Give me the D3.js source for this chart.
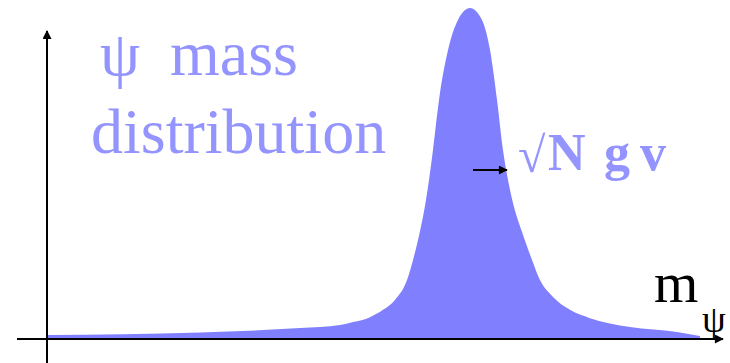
<!DOCTYPE html>
<html>
<head>
<meta charset="utf-8">
<script src="https://cdnjs.cloudflare.com/ajax/libs/d3/7.8.5/d3.min.js"></script>
<style>
  body { margin: 0; background: #fff; }
</style>
</head>
<body>
<div id="mass"></div>
<script>
// mass values (arbitrary units) and relative density of the psi line shape
var mass = [0, 21.86, 36.14, 41.86, 43.71, 46.14, 48.0, 49.71, 51.43, 52.29, 53.0, 54.14, 55.14, 56.0, 57.29, 58.71,
            60.43, 62.14, 63.29, 64.29, 65.14, 65.86, 66.57, 67.86, 69.29, 70.43, 72.29, 74.71, 77.57, 83.29, 90.0, 93.29];
var density = [0.012, 0.020, 0.033, 0.042, 0.051, 0.066, 0.088, 0.118, 0.178, 0.239, 0.299, 0.420, 0.571, 0.722, 0.873, 0.964,
               1.0, 0.964, 0.873, 0.722, 0.571, 0.480, 0.411, 0.323, 0.239, 0.178, 0.127, 0.088, 0.063, 0.036, 0.021, 0.009];
var title = ["ψ", "mass", "distribution"];
var width_label = ["√", "N", "g", "v"];

var W = 730, H = 363;

var x = d3.scaleLinear().domain([0, 100]).range([47, 747]);
var y = d3.scaleLinear().domain([0, 1]).range([339, 8]);

function create_container(){
  var svg = d3.select("#mass").append("svg")
    .attr("width", W)
    .attr("height", H);

  var defs = svg.append("defs");
  defs.append("marker")
    .attr("id", "head")
    .attr("viewBox", "0 0 10 10")
    .attr("refX", 9)
    .attr("refY", 5)
    .attr("markerUnits", "userSpaceOnUse")
    .attr("markerWidth", 11)
    .attr("markerHeight", 9)
    .attr("orient", "auto")
    .append("path")
    .attr("d", "M0,0 L10,5 L0,10 z")
    .attr("fill", "#000");

  draw_shape(svg);
  draw_axes(svg);
  draw_labels(svg);
  return svg;
}

function draw_shape(svg){
  var pts = mass.map(function(m, i){ return [m, density[i]]; });
  var area = d3.area()
    .x(function(d){ return x(d[0]); })
    .y0(y(0))
    .y1(function(d){ return y(d[1]); })
    .curve(d3.curveMonotoneX);

  svg.append("path")
    .datum(pts)
    .attr("d", area)
    .attr("fill", "#8080ff");
}

function draw_axes(svg){
  // y axis
  svg.append("line")
    .attr("x1", x(0))
    .attr("y1", H)
    .attr("x2", x(0))
    .attr("y2", 31)
    .attr("stroke-width", 2)
    .attr("stroke", "#000")
    .attr("marker-end", "url(#head)");

  // x axis
  svg.append("line")
    .attr("x1", 17)
    .attr("y1", y(0))
    .attr("x2", 723)
    .attr("y2", y(0))
    .attr("stroke-width", 2)
    .attr("stroke", "#000")
    .attr("marker-end", "url(#head)");
}

function add_text(svg, tx, ty, size, colour, s){
  return svg.append("text")
    .attr("x", tx)
    .attr("y", ty)
    .attr("font-family", "Liberation Serif")
    .attr("font-size", size)
    .attr("fill", colour)
    .text(s);
}

function draw_labels(svg){
  var blue = "#9494ff";

  add_text(svg, 100, 75, 64, blue, title[0]);
  add_text(svg, 170, 75, 64, blue, title[1]);
  add_text(svg, 91, 153, 64, blue, title[2]);

  // width arrow pointing at the right flank
  svg.append("line")
    .attr("x1", 473)
    .attr("y1", 170)
    .attr("x2", 507)
    .attr("y2", 170)
    .attr("stroke-width", 2)
    .attr("stroke", "#000")
    .attr("marker-end", "url(#head)");

  add_text(svg, 518, 172, 50, blue, width_label[0]);
  add_text(svg, 548, 170, 52, blue, width_label[1]).attr("font-weight", "bold");
  add_text(svg, 604, 170, 52, blue, width_label[2]).attr("font-weight", "bold");
  add_text(svg, 640, 170, 52, blue, width_label[3]).attr("font-weight", "bold");

  add_text(svg, 654, 302, 57, "#000", "m");
  add_text(svg, 702, 332, 38, "#000", "ψ");
}

create_container();
</script>
</body>
</html>
